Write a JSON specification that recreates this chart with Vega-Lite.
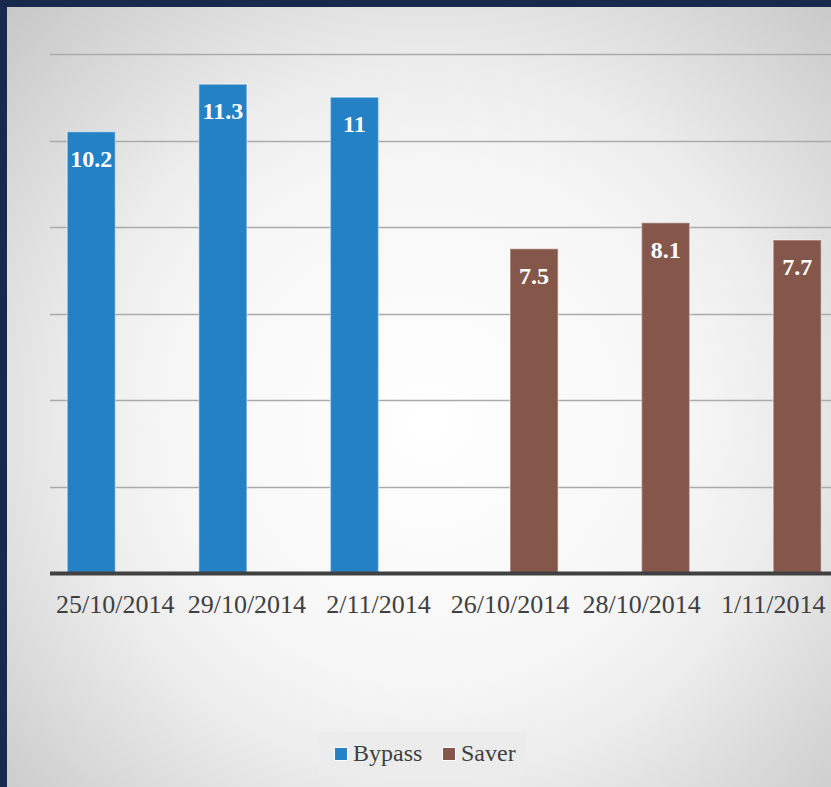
{
  "$schema": "https://vega.github.io/schema/vega-lite/v6.json",
  "width": 824,
  "height": 780,
  "autosize": {"type": "none"},
  "padding": {"left": 7, "top": 7, "right": 0, "bottom": 0},
  "background": "#172a4e",
  "view": {
    "stroke": null,
    "fill": {
      "gradient": "radial",
      "x1": 0.513, "y1": 0.53, "r1": 0,
      "x2": 0.513, "y2": 0.53, "r2": 0.75,
      "stops": [
        {"offset": 0, "color": "#ffffff"},
        {"offset": 0.42, "color": "#f6f6f6"},
        {"offset": 0.58, "color": "#ececec"},
        {"offset": 0.67, "color": "#e3e3e3"},
        {"offset": 0.97, "color": "#c6c6c6"},
        {"offset": 1, "color": "#c3c3c3"}
      ]
    }
  },
  "config": {
    "font": "Liberation Serif",
    "legend": {"labelFont": "Liberation Serif"},
    "axis": {"labelFont": "Liberation Serif"}
  },
  "data": {
    "values": [
      {"date": "25/10/2014", "series": "Bypass", "value": 10.2},
      {"date": "29/10/2014", "series": "Bypass", "value": 11.3},
      {"date": "2/11/2014", "series": "Bypass", "value": 11},
      {"date": "26/10/2014", "series": "Saver", "value": 7.5},
      {"date": "28/10/2014", "series": "Saver", "value": 8.1},
      {"date": "1/11/2014", "series": "Saver", "value": 7.7}
    ]
  },
  "encoding": {
    "x": {
      "field": "date",
      "type": "nominal",
      "sort": null,
      "scale": {"range": [42.5, 832], "paddingInner": 0, "paddingOuter": 0},
      "axis": {
        "title": null,
        "orient": "bottom",
        "offset": -214,
        "labelAngle": 0,
        "labelOverlap": false,
        "labelFont": "Liberation Serif",
        "labelFontSize": 26,
        "labelColor": "#404040",
        "labelBaseline": "top",
        "labelPadding": 18,
        "ticks": false,
        "tickSize": 0,
        "domainColor": "#404040",
        "domainWidth": 4,
        "grid": false,
        "zindex": 1
      }
    },
    "xOffset": {
      "field": "series",
      "type": "nominal",
      "scale": {"domain": ["Bypass", "Saver"], "paddingInner": 0, "paddingOuter": 0.37}
    },
    "y": {
      "field": "value",
      "type": "quantitative",
      "scale": {"domain": [0, 12], "range": [566, 47], "nice": false},
      "axis": {
        "title": null,
        "values": [2, 4, 6, 8, 10, 12],
        "labels": false,
        "ticks": false,
        "domain": false,
        "grid": true,
        "gridColor": "#ababab",
        "gridWidth": 1.5,
        "zindex": 0
      }
    }
  },
  "layer": [
    {
      "mark": {"type": "bar", "stroke": "#ffffff", "strokeOpacity": 0.35, "strokeWidth": 1.5},
      "encoding": {
        "color": {
          "field": "series",
          "type": "nominal",
          "scale": {"domain": ["Bypass", "Saver"], "range": ["#2481c5", "#85574a"]},
          "legend": {
            "title": null,
            "orient": "none",
            "legendX": 312,
            "legendY": 725,
            "direction": "horizontal",
            "padding": 10,
            "fillColor": "#ececec",
            "symbolType": "square",
            "symbolSize": 169,
            "symbolStrokeColor": "#ffffff",
            "symbolStrokeWidth": 1,
            "symbolOpacity": 1,
            "labelFont": "Liberation Serif",
            "labelFontSize": 24,
            "labelColor": "#404040",
            "labelOffset": 0,
            "columnPadding": 14
          }
        }
      }
    },
    {
      "mark": {
        "type": "text",
        "baseline": "alphabetic",
        "align": "center",
        "dy": 35,
        "font": "Liberation Serif",
        "fontSize": 24,
        "fontWeight": "bold",
        "color": "#ffffff"
      },
      "encoding": {
        "text": {"field": "value", "type": "quantitative"}
      }
    }
  ]
}
